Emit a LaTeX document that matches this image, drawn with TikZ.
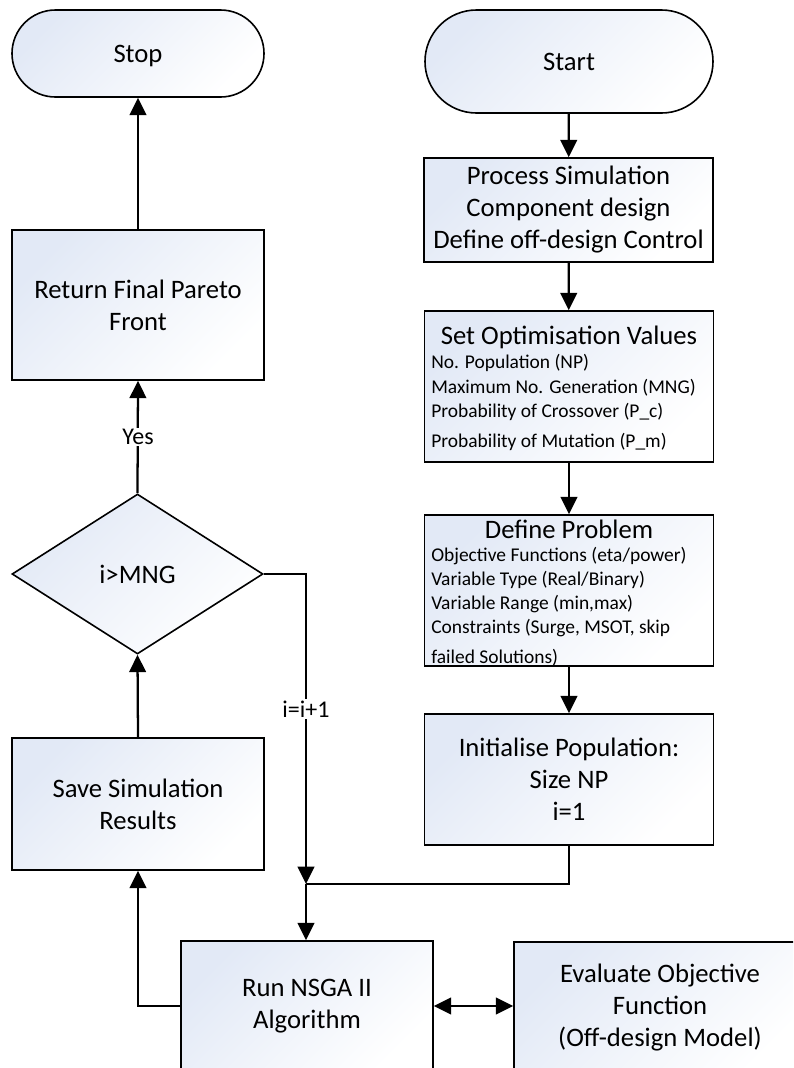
\documentclass[tikz,border=0pt]{standalone}
\usepackage{fontspec}
\setmainfont{Carlito}
\usetikzlibrary{arrows.meta,shapes.geometric}
\definecolor{boxblue}{RGB}{226,233,246}
\begin{document}
\begin{tikzpicture}[x=0.75pt,y=-0.75pt,
  mainfont/.style={font=\fontsize{20}{24}\selectfont},
  smallfont/.style={font=\fontsize{14.6}{17}\selectfont},
  shadefill/.style={top color=boxblue, bottom color=white, shading angle=45},
  procbox/.style={draw, line width=1.2pt, shadefill, mainfont, align=center,
    inner sep=0pt, minimum width=#1},
  procbox/.default=216.75pt,
  terminal/.style={draw, line width=1.2pt, shadefill, mainfont, inner sep=0pt},
  decision/.style={draw, diamond, line width=1.2pt, shadefill, mainfont, inner sep=0pt,
    minimum width=188.25pt, minimum height=120pt},
  conn/.style={line width=1.7pt},
  arr/.style={conn, -{Triangle[length=13pt,width=12.5pt]}},
  darr/.style={conn, {Triangle[length=13pt,width=12.5pt]}-{Triangle[length=13pt,width=12.5pt]}},
  lbl/.style={fill=white, inner sep=1pt, font=\fontsize{18}{21}\selectfont},
  item/.style={smallfont, anchor=west, inner sep=0pt},
  heading/.style={mainfont, inner sep=0pt}]
\useasboundingbox (0,0) rectangle (793,1068);
\clip (0,0) rectangle (793,1068);
\fill[white] (0,0) rectangle (793,1068);

% terminals
\node[terminal, minimum width=189pt, minimum height=65.25pt, rounded corners=32.6pt,
  text depth=0pt] (stop) at (138,53.5) {Stop};
\node[terminal, minimum width=216pt, minimum height=77.25pt, rounded corners=38.6pt]
  (start) at (569,61.5) {Start};

% right column
\node[procbox, minimum height=78pt] (proc) at (568.5,210)
  {Process Simulation\\Component design\\Define off-design Control};

\node[procbox, minimum height=113.25pt] (setopt) at (569,386.5) {};
\node[heading] (setopttitle) at (569,337) {Set Optimisation Values};
\node[item] (np)  at (431,363) {No. Population (NP)};
\node[item] (mng) at (431,388) {Maximum No. Generation (MNG)};
\node[item] (pc)  at (431,412) {Probability of Crossover (P\_c)};
\node[item] (pm)  at (431,442) {Probability of Mutation (P\_m)};

\node[procbox, minimum height=113.25pt] (defp) at (569,590.5) {};
\node[heading] (defptitle) at (569,529) {Define Problem};
\node[item] (obj)   at (431,556) {Objective Functions (eta/power)};
\node[item] (vtype) at (431,580) {Variable Type (Real/Binary)};
\node[item] (vrange) at (431,604) {Variable Range (min,max)};
\node[item] (cons)  at (431,628) {Constraints (Surge, MSOT, skip};
\node[item] (cons2) at (431,658) {failed Solutions)};

\node[procbox, minimum height=98.25pt] (init) at (569,779.5)
  {Initialise Population:\\Size NP\\i=1};

% left column
\node[procbox=189pt, minimum height=112.5pt] (ret) at (138,305)
  {Return Final Pareto\\Front};
\node[decision] (dec) at (137.5,574) {i>MNG};
\node[procbox=189pt, minimum height=99pt] (save) at (138,804)
  {Save Simulation\\Results};

% bottom row
\node[procbox=189pt, minimum height=97.5pt] (run) at (307,1006)
  {Run NSGA II\\Algorithm};
\node[procbox=219pt, minimum height=99pt] (eval) at (660,1008)
  {Evaluate Objective\\Function\\(Off-design Model)};

\coordinate (join) at (306,884);

% connectors
\draw[arr] (start) -- (proc);
\draw[arr] (proc) -- (setopt);
\draw[arr] (setopt) -- (defp);
\draw[arr] (defp) -- (init);
\draw[conn] (init.south) |- (join);
\draw[arr] (dec.east) -| (join);
\draw[arr] (join) -- (join |- run.north);
\draw[arr] (run.west) -| (save.south);
\draw[arr] (save.north) -- (dec.south);
\draw[arr] (dec.north) -- (ret.south);
\draw[arr] (ret.north) -- (stop.south);
\draw[darr] (run.east) -- (run.east -| eval.west);

% connector labels
\node[lbl] (yes) at (138,437) {Yes};
\node[lbl] (inc) at (306,709) {i=i+1};
\end{tikzpicture}
\end{document}
